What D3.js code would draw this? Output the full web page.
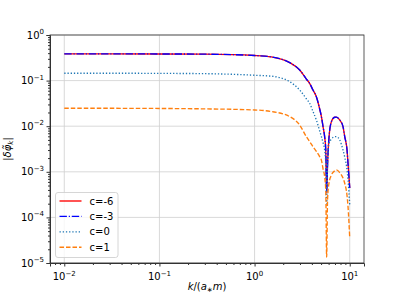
<!DOCTYPE html>
<html><head><meta charset="utf-8">
<script src="https://cdn.jsdelivr.net/npm/d3@7"></script>
<style>body{margin:0;background:#fff}svg{display:block}text{font-family:"DejaVu Sans",sans-serif;fill:#000}</style>
</head><body><svg id="c" width="405" height="300"></svg>
<script>
const kValues = [0.01,0.03,0.1,0.3,1,1.5,2.34,2.98,3.5,3.79,4.11,4.46,4.83,5.04,5.25,5.45,5.6,5.72,5.85,6.05,6.42,6.95,7.24,7.85,8.5,8.86,9.37,9.6,10];
const cm6 = [0.385,0.385,0.384,0.38,0.355,0.33,0.247,0.171,0.108,0.087,0.062,0.0444,0.024,0.0162,0.0096,0.0059,0.003,0.00035,0.0015,0.0055,0.0126,0.0157,0.0158,0.0137,0.0098,0.0059,0.003,0.0015,0.00044];
const cm3 = [0.385,0.385,0.384,0.38,0.355,0.33,0.247,0.171,0.108,0.087,0.062,0.0444,0.024,0.0162,0.0096,0.0059,0.003,0.00035,0.0015,0.0055,0.0126,0.0157,0.0158,0.0137,0.0098,0.0059,0.003,0.0015,0.00044];
const c0 = [0.145,0.145,0.144,0.142,0.131,0.125,0.0946,0.0622,0.040,0.0318,0.021,0.0137,0.0079,0.0059,0.0043,0.003,0.0015,0.0002,0.0016,0.0042,0.0052,0.0059,0.0059,0.005,0.003,0.0021,0.0011,0.00066,0.00019];
const c1 = [0.0247,0.0247,0.0245,0.024,0.0227,0.021,0.0162,0.0106,0.0059,0.0046,0.00355,0.0028,0.00215,0.0018,0.00115,0.00078,0.00038,0.0000135,0.00025,0.00056,0.00085,0.00105,0.0011,0.00096,0.00073,0.00056,0.0003,0.00017,0.000035];
const seriesNames = ["c=-6","c=-3","c=0","c=1"];
const seriesValues = [cm6,cm3,c0,c1];
const seriesColors = ["#ff0000","#0000ff","#1f77b4","#ff7f0e"];
const seriesDash = [null,"7.4,1.85,1.16,1.85","1.3,1.9","4.5,2"];
const xTicks = [0.01,0.1,1,10];
const yTicks = [1e-5,1e-4,1e-3,1e-2,1e-1,1];

const svg = d3.select("#c");
const L=50,R=364,T=35,B=263;
const x = d3.scaleLog().domain([Math.pow(10,-2.15),Math.pow(10,1.15)]).range([L,R]);
const y = d3.scaleLog().domain([1e-5,1]).range([B,T]);

// grid
const g = svg.append("g");
xTicks.forEach(t=>g.append("line").attr("x1",x(t)).attr("x2",x(t)).attr("y1",T).attr("y2",B).attr("stroke","#cfcfcf").attr("stroke-width",0.8));
yTicks.forEach(t=>g.append("line").attr("x1",L).attr("x2",R).attr("y1",y(t)).attr("y2",y(t)).attr("stroke","#cfcfcf").attr("stroke-width",0.8));

// lines
const line = d3.line().x((d,i)=>x(kValues[i])).y(d=>y(d)).curve(d3.curveMonotoneX);
seriesValues.forEach((vals,i)=>{
  const p = svg.append("path").attr("d",line(vals)).attr("fill","none")
    .attr("stroke",seriesColors[i]).attr("stroke-width",1.35);
  if(seriesDash[i]) p.attr("stroke-dasharray",seriesDash[i]);
});

// axes
function sup(sel, exp){
  sel.text(null);
  sel.append("tspan").text("10");
  sel.append("tspan").attr("dy",-4.5).attr("font-size","7px").text(exp<0?"\u2212"+(-exp):String(exp));
}
const xAxis = d3.axisBottom(x).tickValues(xTicks).tickSize(3.5).tickFormat("");
const ax = svg.append("g").attr("transform",`translate(0,${B})`).call(xAxis);
const xMinor=[];
for(let e=-3;e<=1;e++) for(let m=2;m<=9;m++){const v=m*Math.pow(10,e); if(v>x.domain()[0]&&v<x.domain()[1]) xMinor.push(v);}
const xm = svg.append("g").attr("transform",`translate(0,${B})`).call(d3.axisBottom(x).tickValues(xMinor).tickSize(2).tickFormat(""));
xm.select(".domain").remove();
xTicks.forEach(t=>{
  const tx = svg.append("text").attr("x",x(t)).attr("y",B+17).attr("text-anchor","middle").attr("font-size","10px");
  sup(tx, Math.round(Math.log10(t)));
});
const yAxis = d3.axisLeft(y).tickValues(yTicks).tickSize(3.5).tickFormat("");
const ay = svg.append("g").attr("transform",`translate(${L},0)`).call(yAxis);
const yMinor=[];
for(let e=-5;e<0;e++) for(let m=2;m<=9;m++) yMinor.push(m*Math.pow(10,e));
const ym = svg.append("g").attr("transform",`translate(${L},0)`).call(d3.axisLeft(y).tickValues(yMinor).tickSize(2).tickFormat(""));
ym.select(".domain").remove();
yTicks.forEach(t=>{
  const ty = svg.append("text").attr("x",L-6).attr("y",y(t)+3.5).attr("text-anchor","end").attr("font-size","10px");
  sup(ty, Math.round(Math.log10(t)));
});
svg.append("rect").attr("x",L).attr("y",T).attr("width",R-L).attr("height",B-T).attr("fill","none").attr("stroke","#333").attr("stroke-width",0.8);
svg.selectAll(".domain").attr("stroke","#333");
svg.selectAll(".tick line").attr("stroke","#333");

// labels
const xl = svg.append("text").attr("x",(L+R)/2).attr("y",290).attr("text-anchor","middle").attr("font-size","10px");
xl.append("tspan").attr("font-style","italic").text("k");
xl.append("tspan").text("/(");
xl.append("tspan").attr("font-style","italic").text("a");
xl.append("tspan").attr("font-size","7px").attr("dy",2).text("\u2217");
xl.append("tspan").attr("font-style","italic").attr("dy",-2).text("m");
xl.append("tspan").text(")");
const yl = svg.append("text").attr("transform",`translate(11,${(T+B)/2}) rotate(-90)`).attr("text-anchor","middle").attr("font-size","10px");
yl.append("tspan").text("|");
yl.append("tspan").attr("font-style","italic").text("\u03b4\u03c6\u0303");
yl.append("tspan").attr("font-style","italic").attr("font-size","7px").attr("dy",2).text("k");
yl.append("tspan").attr("dy",-2).text("|");

// legend
const lg = svg.append("g");
lg.append("rect").attr("x",55.5).attr("y",192.5).attr("width",62.5).attr("height",65).attr("rx",2.5)
  .attr("fill","#fff").attr("fill-opacity",0.8).attr("stroke","#ccc").attr("stroke-width",0.8);
seriesNames.forEach((n,i)=>{
  const yy = 201+i*15.4;
  const l = lg.append("line").attr("x1",59.5).attr("x2",81.5).attr("y1",yy).attr("y2",yy)
    .attr("stroke",seriesColors[i]).attr("stroke-width",1.35);
  if(seriesDash[i]) l.attr("stroke-dasharray",seriesDash[i]);
  lg.append("text").attr("x",89.5).attr("y",yy+3.6).attr("font-size","10px").text(n);
});
</script></body></html>
